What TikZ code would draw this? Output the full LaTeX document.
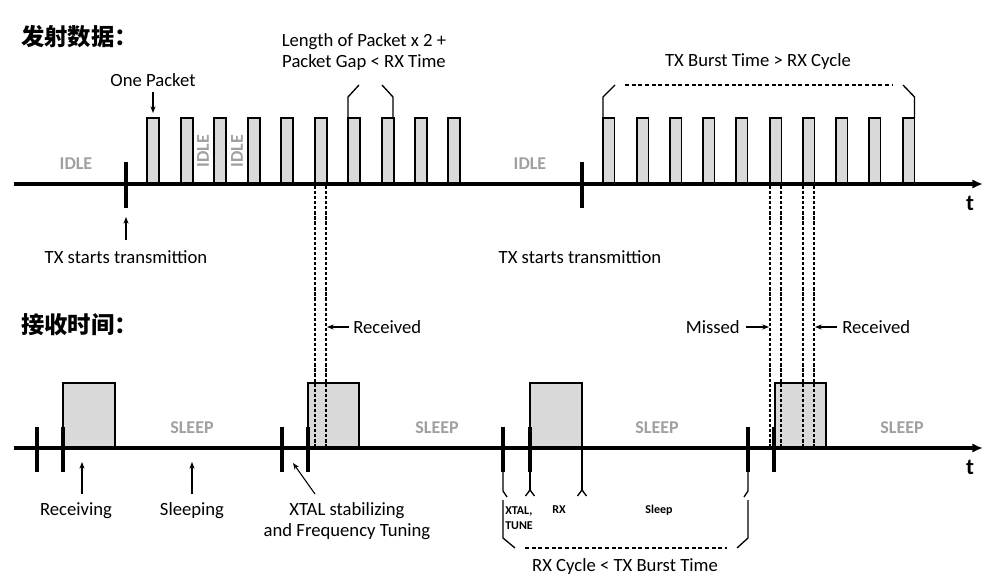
\documentclass[tikz,border=0pt]{standalone}
\usepackage{fontspec}
\setmainfont{Carlito}
\newfontfamily\cjk{Noto Sans CJK SC}
\usetikzlibrary{arrows.meta}
\definecolor{pktfill}{HTML}{D9D9D9}
\definecolor{idlegray}{HTML}{A0A0A0}
\begin{document}
\begin{tikzpicture}[x=0.75pt,y=-0.75pt,
  axisline/.style={line width=2.4pt,-{Latex[length=8pt,width=7pt]}},
  tickline/.style={line width=2.5pt},
  pkt/.style={draw=black,line width=1.1pt,fill=pktfill},
  brk/.style={line width=1pt},
  dashv/.style={line width=0.8pt,dash pattern=on 2.4pt off 1.4pt},
  dashh/.style={line width=0.9pt,dash pattern=on 3pt off 2pt},
  arr/.style={line width=0.8pt,-{Stealth[length=5pt,width=3.8pt]}},
  lbl/.style={font=\fontsize{14}{15.5}\selectfont,inner sep=0pt},
  grey/.style={font=\fontsize{13.5}{15}\selectfont\bfseries,text=idlegray,inner sep=0pt},
  ttl/.style={font=\fontsize{17.5}{20}\selectfont\cjk\bfseries,inner sep=0pt,anchor=west},
  tiny/.style={font=\fontsize{9}{11.5}\selectfont\bfseries,inner sep=0pt},
  tlbl/.style={font=\fontsize{17}{19}\selectfont\bfseries,inner sep=0pt}]
\useasboundingbox (0,0) rectangle (983,578);

% ---------- titles ----------
\node[ttl] (t1) at (21,37) {发射数据：};
\node[ttl] (t2) at (21,325) {接收时间：};

% ---------- TX packets ----------
\foreach \x in {147,181,214,248,281,315,348,382,415,448}
  \draw[pkt] (\x,118) rectangle ++(12,66);
\foreach \x in {603,637,670,703,736,770,803,836,869,903}
  \draw[pkt] (\x,118) rectangle ++(11.5,66);

% ---------- RX boxes ----------
\draw[pkt] (63,383) rectangle (115,448);
\draw[pkt] (308,383) rectangle (359,448);
\draw[pkt] (530,383) rectangle (582,448);
\draw[pkt] (775,383) rectangle (826,448);

% ---------- dashed alignment lines ----------
\foreach \x in {315,326,770,781,803,814}
  \draw[dashv] (\x,186) -- (\x,447);

% ---------- axes ----------
\coordinate (a1s) at (14,184);
\coordinate (a1e) at (983,184);
\coordinate (a2s) at (14,448);
\coordinate (a2e) at (983,448);
\draw[axisline] (a1s) -- (a1e);
\draw[axisline] (a2s) -- (a2e);
\node[tlbl] (tt1) at (970,203) {t};
\node[tlbl] (tt2) at (970,467) {t};

% ---------- ticks ----------
\foreach \x in {126,582}
  \draw[tickline] (\x,162) -- (\x,208);
\foreach \x in {37,63,282,308,503,530,748,774}
  \draw[tickline] (\x,427) -- (\x,472);

% ---------- upper brackets ----------
\draw[brk] (348,118) -- (348,97) -- (359,85);
\draw[brk] (393,118) -- (393,97) -- (382,85);
\draw[brk] (603,118) -- (603,97) -- (615,85);
\draw[brk] (914.5,118) -- (914.5,97) -- (903,85);
\coordinate (bd1) at (625,85);
\coordinate (bd2) at (893,85);
\draw[dashh] (bd1) -- (bd2);

% ---------- top labels ----------
\node[lbl] (onep) at (153,80) {One Packet};
\coordinate (onept) at (153,113);
\draw[arr] (153,92) -- (onept);
\node[lbl,align=center] (lenp) at (364,52) {Length of Packet x 2 +\\Packet Gap < RX Time};
\node[lbl] (burst) at (758,62) {TX Burst Time > RX Cycle};
\node[grey] (idle1) at (76,164) {IDLE};
\node[grey] (idle2) at (530,164) {IDLE};
\node[grey,rotate=90] (idle3) at (203,151) {IDLE};
\node[grey,rotate=90] (idle4) at (237,151) {IDLE};

\node[lbl] (txs1) at (126,257) {TX starts transmittion};
\node[lbl] (txs2) at (580,257) {TX starts transmittion};
\coordinate (txa1) at (126,217);
\draw[arr] (126,240) -- (txa1);

% ---------- middle labels ----------
\node[lbl,anchor=west] (rec1) at (353,327) {Received};
\coordinate (rec1t) at (327,327);
\draw[arr] (rec1.west) ++(-4,0) -- (rec1t);
\node[lbl,anchor=east] (miss) at (740,327) {Missed};
\coordinate (misst) at (769,327);
\draw[arr] (miss.east) ++(6,0) -- (misst);
\node[lbl,anchor=west] (rec2) at (842,327) {Received};
\coordinate (rec2t) at (815,327);
\draw[arr] (rec2.west) ++(-5,0) -- (rec2t);

% ---------- sleep labels ----------
\node[grey] (s1) at (192,428) {SLEEP};
\node[grey] (s2) at (437,428) {SLEEP};
\node[grey] (s3) at (657,428) {SLEEP};
\node[grey] (s4) at (902,428) {SLEEP};

% ---------- bottom labels ----------
\node[lbl] (rcv) at (76,511) {Receiving};
\coordinate (rcvt) at (82,462);
\draw[arr] (82,494) -- (rcvt);
\node[lbl] (slp) at (192,511) {Sleeping};
\coordinate (slpt) at (192,462);
\draw[arr] (192,494) -- (slpt);
\node[lbl,align=center] (xtal) at (347,521) {XTAL stabilizing\\and Frequency Tuning};
\coordinate (xtalt) at (293,463);
\draw[arr] (315,494) -- (xtalt);

% ---------- RX cycle segment braces ----------
\draw[brk] (503,472) -- (503,491) -- (507,497);
\draw[brk] (503,500) -- (503,538) -- (515,548);
\draw[brk] (530,472) -- (530,490);
\draw[brk] (525.5,496) -- (530,490) -- (534.5,496);
\draw[brk] (582,448) -- (582,490);
\draw[brk] (577.5,496) -- (582,490) -- (586.5,496);
\draw[brk] (748,472) -- (748,491) -- (744,497);
\draw[brk] (748,500) -- (748,538) -- (737,548);
\coordinate (cd1) at (525,548);
\coordinate (cd2) at (727,548);
\draw[dashh] (cd1) -- (cd2);

\node[tiny,anchor=west,align=left] (xt) at (505,518) {XTAL,\\TUNE};
\node[tiny] (rxl) at (559,510) {RX};
\node[tiny] (slpl) at (659,510) {Sleep};
\node[lbl] (cyc) at (625,567) {RX Cycle < TX Burst Time};
\end{tikzpicture}
\end{document}
